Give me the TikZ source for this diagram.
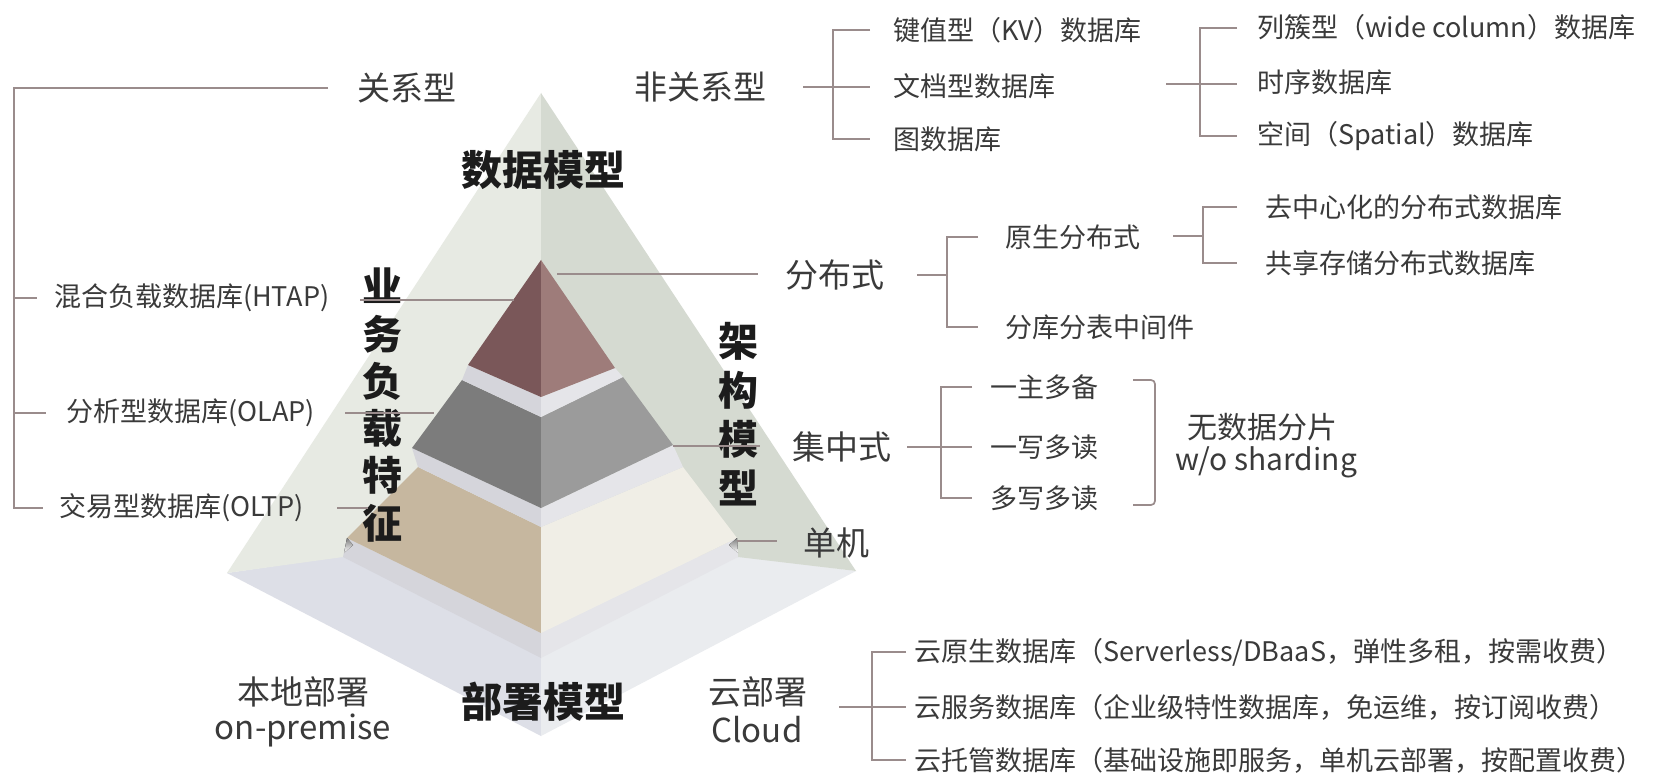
\documentclass[tikz,border=0pt]{standalone}
\usepackage{fontspec}
\setmainfont{Noto Sans CJK SC}
\definecolor{faceL}{HTML}{E7EAE3}
\definecolor{faceR}{HTML}{D5DAD1}
\definecolor{marL}{HTML}{7A5759}
\definecolor{marR}{HTML}{9E7C7A}
\definecolor{grL}{HTML}{7C7C7C}
\definecolor{grR}{HTML}{9B9B9B}
\definecolor{tanL}{HTML}{C6B79F}
\definecolor{tanR}{HTML}{F0EEE6}
\definecolor{bandL}{HTML}{D5D5DB}
\definecolor{bandR}{HTML}{E5E5E9}
\definecolor{floorL}{HTML}{DDDFE7}
\definecolor{floorR}{HTML}{EAECEF}
\definecolor{shade}{HTML}{8E8E96}
\definecolor{linec}{HTML}{9A8C8C}
\definecolor{txt}{HTML}{3A3A3A}
\definecolor{dark}{HTML}{1C1C1C}
\tikzset{
  conn/.style={draw=linec, line width=1.7pt},
  t27/.style={font=\fontsize{27}{30}\selectfont, text=txt, inner sep=0pt},
  t30/.style={font=\fontsize{30}{33}\selectfont, text=txt, inner sep=0pt},
  t33/.style={font=\fontsize{33}{36}\selectfont, text=txt, inner sep=0pt},
  tb/.style={font=\fontsize{41}{44}\selectfont\bfseries, text=dark, inner sep=0pt},
  tv/.style={font=\fontsize{40}{47.3}\selectfont\bfseries, text=dark, inner sep=0pt, align=center},
}
\begin{document}
\begin{tikzpicture}[x=1pt,y=-1pt]
\useasboundingbox (0,0) rectangle (1657,775);
\fill[white] (0,0) rectangle (1657,775);

% floor
\fill[floorL] (227,573) -- (343,556) -- (541,556) -- (541,736) -- cycle;
\fill[floorR] (856,571) -- (738,556) -- (541,556) -- (541,736) -- cycle;
% outer faces
\fill[faceL] (541,93) -- (227,573) -- (343,557) -- (541,557) -- cycle;
\fill[faceR] (541,93) -- (856,571) -- (738,557) -- (541,557) -- cycle;
% tan tier band
\fill[bandL] (347,538) -- (541,633) -- (541,658) -- (343,557) -- cycle;
\fill[bandR] (737,538) -- (541,633) -- (541,658) -- (738,557) -- cycle;
% tan tier
\fill[tanL] (418,467) -- (541,527) -- (541,633) -- (347,538) -- cycle;
\fill[tanR] (683,467) -- (541,527) -- (541,633) -- (737,538) -- cycle;
\fill[shade] (347,538) -- (344,553) -- (353,545) -- cycle;
\fill[shade] (737,538) -- (738,553) -- (729,545) -- cycle;
% grey tier band
\fill[bandL] (412,448) -- (541,508) -- (541,527) -- (418,467) -- cycle;
\fill[bandR] (673,445) -- (541,508) -- (541,527) -- (683,467) -- cycle;
% grey tier
\fill[grL] (462,380) -- (541,417) -- (541,508) -- (412,448) -- cycle;
\fill[grR] (623,377) -- (541,417) -- (541,508) -- (673,445) -- cycle;
% maroon band
\fill[bandL] (468,365) -- (541,397) -- (541,417) -- (462,380) -- cycle;
\fill[bandR] (615,368) -- (541,397) -- (541,417) -- (623,377) -- cycle;
% maroon top
\fill[marL] (541,260) -- (468,365) -- (541,397) -- cycle;
\fill[marR] (541,260) -- (615,368) -- (541,397) -- cycle;

% ---------- texts ----------
\node[tb] (dm) at (543,170) {数据模型};
\node[tb] (dep) at (543,702) {部署模型};
\node[tv] (work) at (382,405) {业\\务\\负\\载\\特\\征};
\node[tv, font=\fontsize{40}{49}\selectfont\bfseries] (arch) at (738,414) {架\\构\\模\\型};

\node[t33] (rel) at (407,88) {关系型};
\node[t27, anchor=west] (htap) at (54,298) {混合负载数据库(HTAP)};
\node[t27, anchor=west] (olap) at (66,413) {分析型数据库(OLAP)};
\node[t27, anchor=west] (oltp) at (59,508) {交易型数据库(OLTP)};

\node[t33, anchor=west] (nonrel) at (634,87) {非关系型};
\node[t27, anchor=west] (kv) at (893,30) {键值型（KV）数据库};
\node[t27, anchor=west] (doc) at (893,86) {文档型数据库};
\node[t27, anchor=west] (graph) at (893,139) {图数据库};
\node[t27, anchor=west] (wide) at (1257,27) {列簇型（wide column）数据库};
\node[t27, anchor=west] (ts) at (1257,82) {时序数据库};
\node[t27, anchor=west] (spat) at (1257,136) {空间（Spatial）数据库};

\node[t33, anchor=west] (dist) at (785,275) {分布式};
\node[t27, anchor=west] (native) at (1005,237) {原生分布式};
\node[t27, anchor=west] (mid) at (1005,327) {分库分表中间件};
\node[t27, anchor=west] (decen) at (1265,207) {去中心化的分布式数据库};
\node[t27, anchor=west] (share) at (1265,263) {共享存储分布式数据库};

\node[t33, anchor=west] (cent) at (792,447) {集中式};
\node[t27, anchor=west] (m1) at (990,387) {一主多备};
\node[t27, anchor=west] (m2) at (990,447) {一写多读};
\node[t27, anchor=west] (m3) at (990,498) {多写多读};
\node[t30] (nosh) at (1262,427) {无数据分片};
\node[t30] (wos) at (1266,462) {w/o sharding};

\node[t33] (single) at (836,543) {单机};

\node[t33] (local) at (303,692) {本地部署};
\node[t33] (onprem) at (303,730) {on-premise};
\node[t33] (cloudcn) at (758,692) {云部署};
\node[t33] (cloud) at (757,730) {Cloud};
\node[t27, anchor=west] (c1) at (914,652) {云原生数据库（Serverless/DBaaS，弹性多租，按需收费）};
\node[t27, anchor=west] (c2) at (914,707) {云服务数据库（企业级特性数据库，免运维，按订阅收费）};
\node[t27, anchor=west] (c3) at (914,760) {云托管数据库（基础设施即服务，单机云部署，按配置收费）};

% ---------- connectors ----------
% relational bracket
\coordinate (relL) at (328,88);
\coordinate (relV) at (14,88);
\coordinate (relB) at (14,508);
\draw[conn] (relL) -- (relV) -- (relB) -- (43,508);
\draw[conn] (14,298) -- (37,298);
\draw[conn] (14,413) -- (46,413);
% work-load lines into pyramid
\coordinate (wl1) at (360,300); \coordinate (wl1e) at (514,300);
\coordinate (wl2) at (345,413); \coordinate (wl2e) at (434,413);
\coordinate (wl3) at (337,508); \coordinate (wl3e) at (368,508);
\draw[conn] (wl1) -- (wl1e);
\draw[conn] (wl2) -- (wl2e);
\draw[conn] (wl3) -- (wl3e);

% non-relational
\draw[conn] (803,87) -- (870,87);
\draw[conn] (870,30) -- (833,30) -- (833,139) -- (870,139);
\draw[conn] (1166,84) -- (1200,84);
\draw[conn] (1237,28) -- (1200,28) -- (1200,136) -- (1237,136);
\draw[conn] (1200,84) -- (1237,84);

% distributed
\coordinate (dA) at (557,274); \coordinate (dB) at (758,274);
\draw[conn] (dA) -- (dB);
\draw[conn] (917,275) -- (947,275);
\draw[conn] (978,237) -- (947,237) -- (947,327) -- (978,327);
\draw[conn] (1173,236) -- (1203,236);
\draw[conn] (1237,207) -- (1203,207) -- (1203,263) -- (1237,263);

% centralized
\coordinate (cA) at (673,446); \coordinate (cB) at (760,446);
\draw[conn] (cA) -- (cB);
\draw[conn] (907,447) -- (972,447);
\draw[conn] (972,387) -- (941,387) -- (941,498) -- (972,498);
\draw[conn, rounded corners=4pt] (1133,380) -- (1155,380) -- (1155,505) -- (1133,505);

% single
\coordinate (sA) at (737,541); \coordinate (sB) at (777,541);
\draw[conn] (sA) -- (sB);

% cloud
\draw[conn] (839,707) -- (906,707);
\draw[conn] (906,652) -- (872,652) -- (872,760) -- (906,760);
\end{tikzpicture}
\end{document}
